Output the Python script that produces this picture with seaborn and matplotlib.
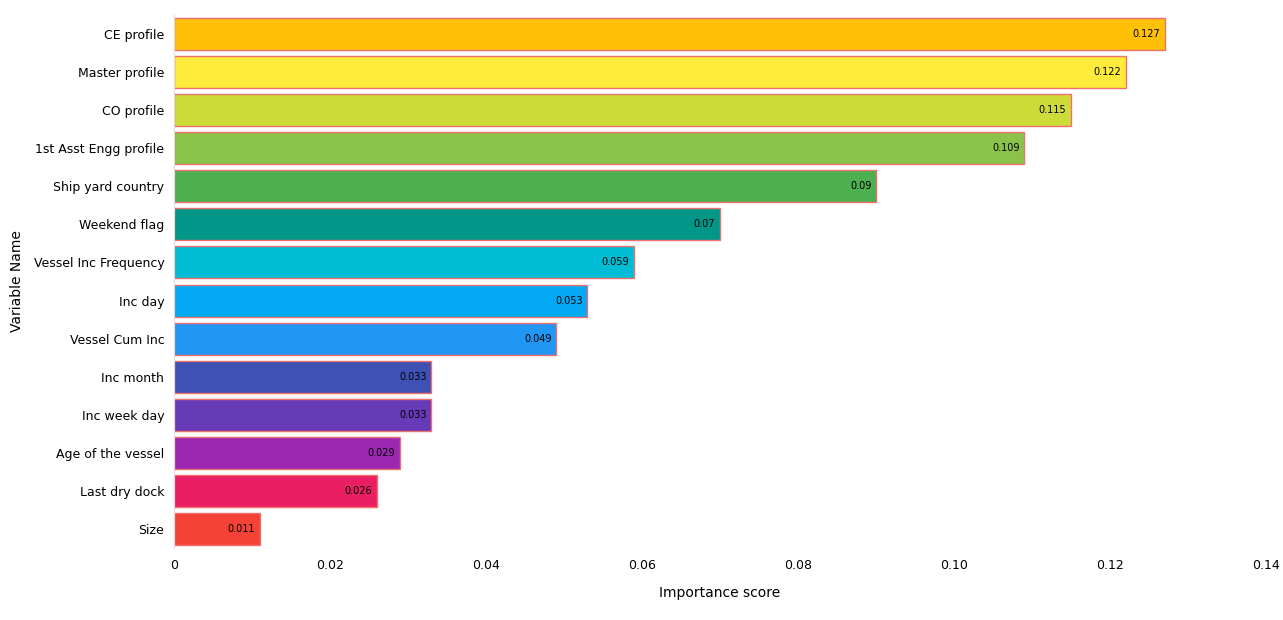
import pandas as pd
import matplotlib.pyplot as plt
import seaborn as sns

# Feature importance data
variables = ["CE profile", "Master profile", "CO profile", "1st Asst Engg profile",
             "Ship yard country", "Weekend flag", "Vessel Inc Frequency", "Inc day",
             "Vessel Cum Inc", "Inc month", "Inc week day", "Age of the vessel",
             "Last dry dock", "Size"]
scores = [0.127, 0.122, 0.115, 0.109, 0.09, 0.07, 0.059, 0.053, 0.049,
          0.033, 0.033, 0.029, 0.026, 0.011]
bar_colors = ["#FFC107", "#FFEB3B", "#CDDC39", "#8BC34A", "#4CAF50", "#009688",
              "#00BCD4", "#03A9F4", "#2196F3", "#3F51B5", "#673AB7", "#9C27B0",
              "#E91E63", "#F44336"]

df = pd.DataFrame({"Variable": variables, "Score": scores})

sns.set_style("white")
plt.rcParams['font.family'] = ['DejaVu Sans']
plt.rcParams['text.color'] = 'black'
plt.rcParams['axes.labelcolor'] = 'black'
plt.rcParams['xtick.color'] = 'black'
plt.rcParams['ytick.color'] = 'black'

fig = plt.figure(figsize=(12.83, 6.2), dpi=100)
ax = fig.add_axes([0.1356, 0.116, 0.8511, 0.86])

sns.barplot(data=df, x="Score", y="Variable", hue="Variable", palette=bar_colors,
            legend=False, width=0.84, edgecolor="#F07070", linewidth=1.0,
            saturation=1, ax=ax)

for bar, val in zip(ax.patches, scores):
    ax.text(bar.get_width() - 0.0006, bar.get_y() + bar.get_height() / 2,
            f"{val:g}", ha="right", va="center", fontsize=7, color="black")

ax.set_xlim(0, 0.14)
ax.set_xticks([0, 0.02, 0.04, 0.06, 0.08, 0.10, 0.12, 0.14])
ax.set_xticklabels(["0", "0.02", "0.04", "0.06", "0.08", "0.10", "0.12", "0.14"])
ax.set_ylim(13.5, -0.5)
ax.tick_params(axis="both", length=0, labelsize=9)
ax.tick_params(axis="x", pad=8)
ax.tick_params(axis="y", pad=7)
ax.set_xlabel("Importance score", fontsize=10, labelpad=10)
ax.set_ylabel("Variable Name", fontsize=10)
ax.yaxis.set_label_coords(-0.137, 0.5)

for side in ["top", "right", "bottom"]:
    ax.spines[side].set_visible(False)
ax.spines["left"].set_color("#dddddd")

fig.savefig("out.png", dpi=100)
